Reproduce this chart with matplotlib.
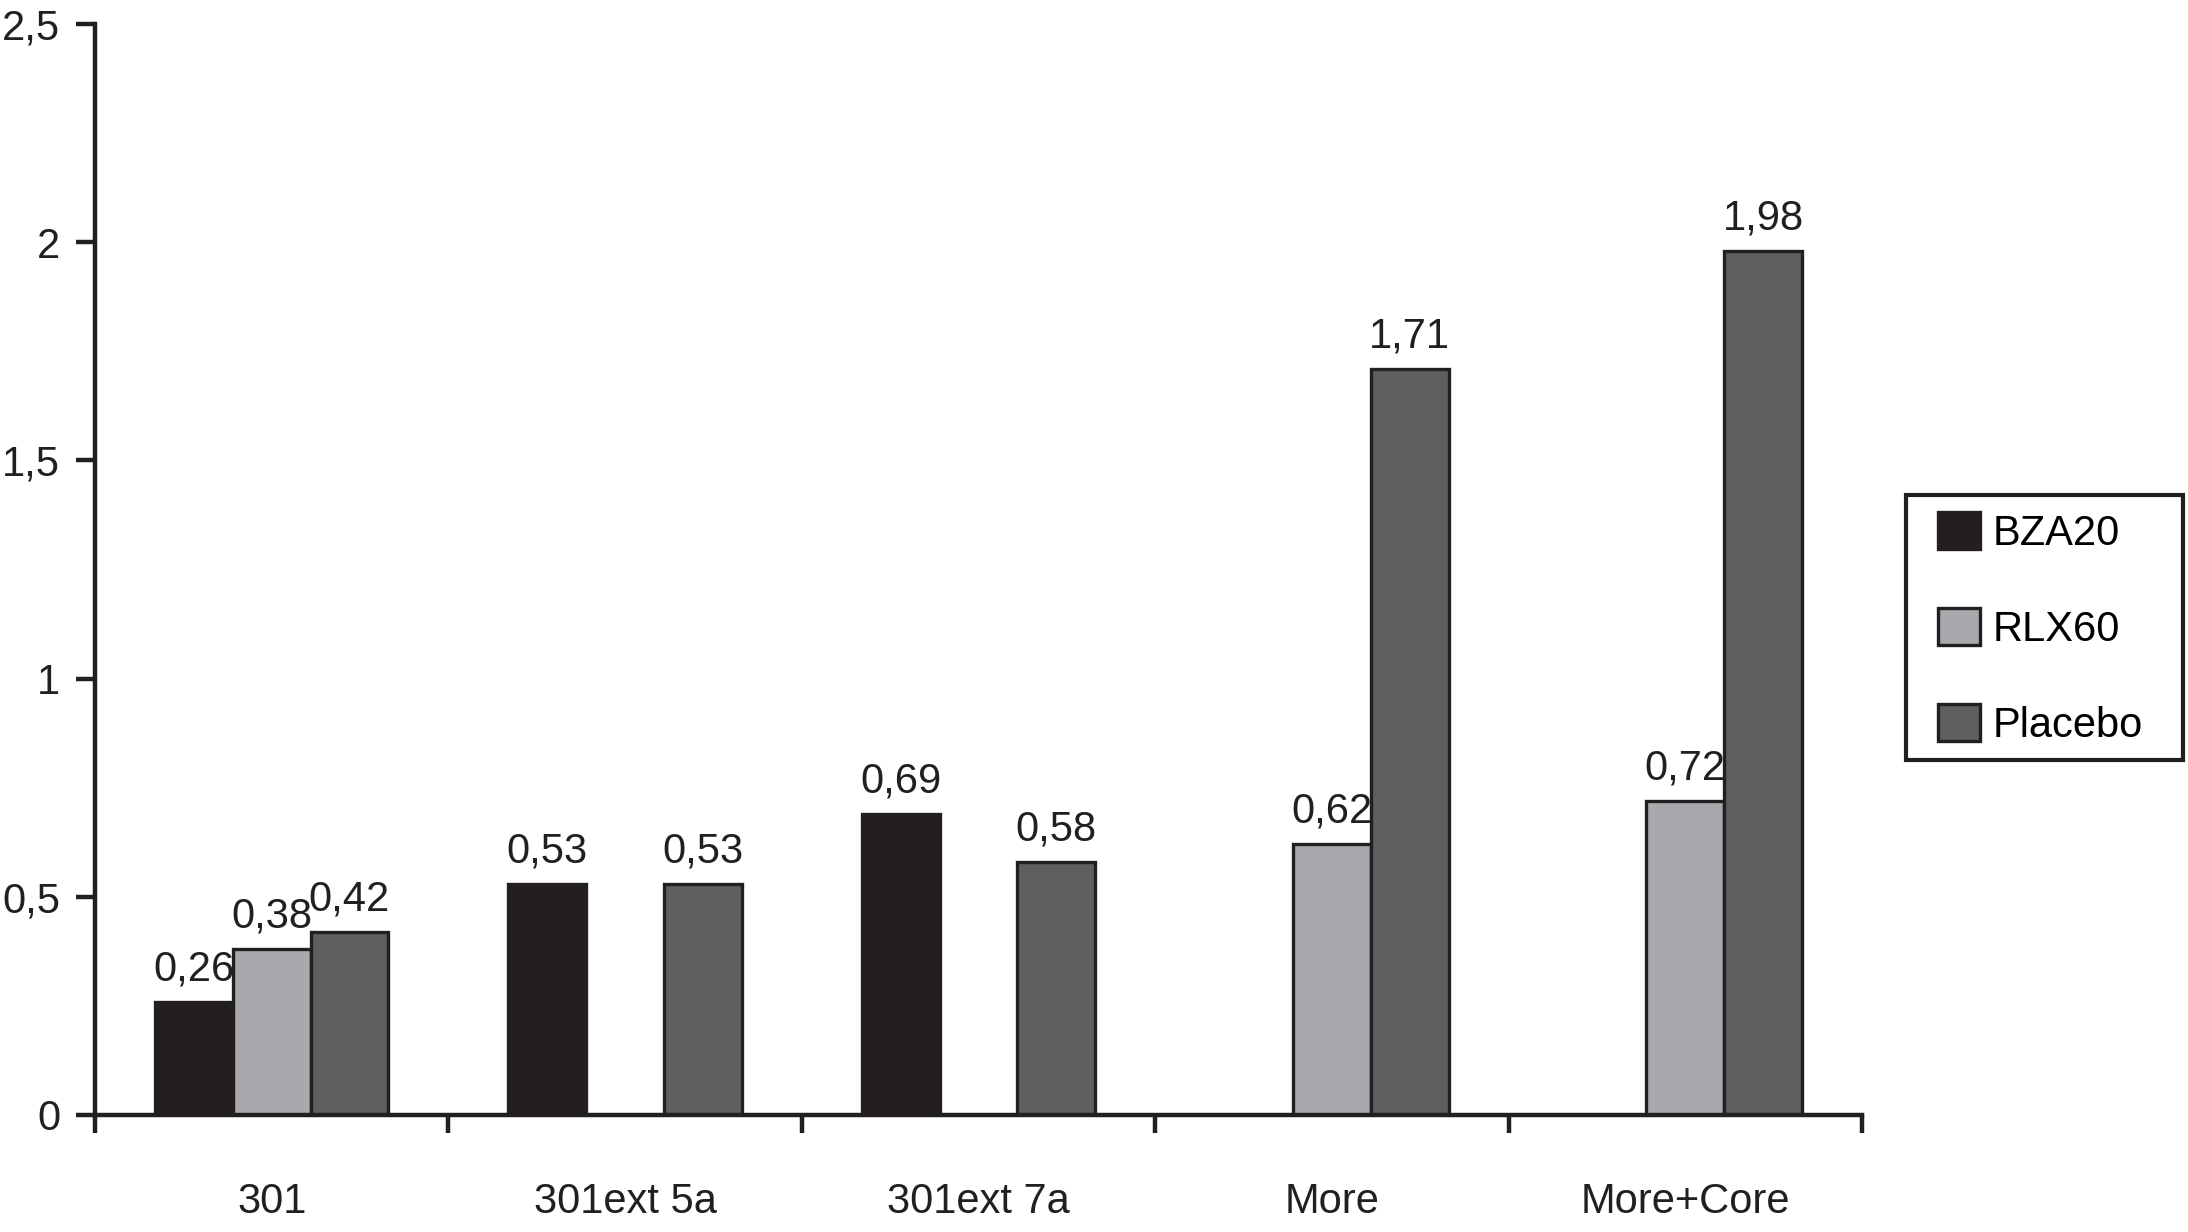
import numpy as np
import matplotlib.pyplot as plt
from matplotlib.patches import Rectangle
from matplotlib.ticker import FuncFormatter

plt.rcParams['font.family'] = ['Liberation Sans', 'DejaVu Sans']

# data (nan = no bar)
categories = ['301', '301ext 5a', '301ext 7a', 'More', 'More+Core']
bza20   = [0.26, 0.53, 0.69, np.nan, np.nan]
rlx60   = [0.38, np.nan, np.nan, 0.62, 0.72]
placebo = [0.42, 0.53, 0.58, 1.71, 1.98]
series = ['BZA20', 'RLX60', 'Placebo']
colors = ['#231f20', '#a7a9ac', '#5d5f61']

fs = 30
lw = 2.4
W, H = 2188, 1232

fig = plt.figure(figsize=(W / 100, H / 100), dpi=100)
ax = fig.add_axes([0.0434, 0.095, 0.8076, 0.8855])

x = np.arange(len(categories)) + 0.5
width = 0.22
for i, (name, vals, col) in enumerate(zip(series, [bza20, rlx60, placebo], colors)):
    vals = np.array(vals, dtype=float)
    pos = x + (i - 1) * width
    ok = ~np.isnan(vals)
    ax.bar(pos[ok], vals[ok], width, color=col, edgecolor='#231f20',
           linewidth=lw, label=name, zorder=2)
    for p, v in zip(pos[ok], vals[ok]):
        ax.annotate(('%.2f' % v).replace('.', ','), (p, v), xytext=(0, 9),
                    textcoords='offset points', ha='center', va='bottom',
                    fontsize=fs, color='#231f20')

ax.set_xlim(0, len(categories))
ax.set_ylim(0, 2.5)
ax.set_yticks(np.arange(0, 2.51, 0.5))
ax.yaxis.set_major_formatter(FuncFormatter(lambda v, p: ('%g' % v).replace('.', ',')))

ax.set_xticks(np.arange(len(categories) + 1))
ax.set_xticklabels([])
ax.set_xticks(x, minor=True)
ax.set_xticklabels(categories, minor=True)

for s in ['top', 'right']:
    ax.spines[s].set_visible(False)
for s in ['left', 'bottom']:
    ax.spines[s].set_linewidth(3.2)
    ax.spines[s].set_color('#231f20')

ax.tick_params(axis='y', direction='out', length=14, width=3.2, pad=11,
               labelsize=fs, colors='#231f20')
ax.tick_params(axis='x', which='major', direction='out', length=13, width=3.2,
               colors='#231f20')
ax.tick_params(axis='x', which='minor', length=0, pad=48, labelsize=fs,
               labelcolor='#231f20')

# legend without its own frame, box drawn separately
leg = fig.legend(loc='upper left', bbox_to_anchor=(1938 / W, 1 - 512 / H),
                 fontsize=fs, frameon=False,
                 handlelength=1.0, handleheight=1.0, labelspacing=1.3,
                 handletextpad=0.3, borderpad=0, borderaxespad=0)
for h in leg.legend_handles:
    h.set_linewidth(lw)
fig.add_artist(Rectangle((1906 / W, 1 - 760 / H), 277 / W, 265 / H,
                         transform=fig.transFigure, fill=False,
                         edgecolor='#231f20', linewidth=3))

fig.savefig('out.png', dpi=100, facecolor='white')
